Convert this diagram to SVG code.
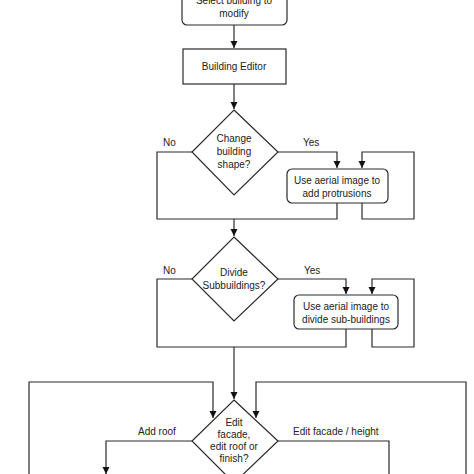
<svg xmlns="http://www.w3.org/2000/svg" width="474" height="474" viewBox="0 0 474 474">
<defs>
<marker id="arr" markerWidth="8" markerHeight="8" refX="7" refY="4" orient="auto" markerUnits="userSpaceOnUse">
<path d="M0,0.5 L7,4 L0,7.5 Z" fill="#111"/>
</marker>
<style>
.n{fill:#fff;stroke:#2a2a2a;stroke-width:1.2}
.c{fill:none;stroke:#2a2a2a;stroke-width:1.2}
.t{font-family:"Liberation Sans",Arial,sans-serif;font-size:10px;fill:#222;text-anchor:middle}
.l{font-family:"Liberation Sans",Arial,sans-serif;font-size:10px;fill:#222}
</style>
</defs>
<rect width="474" height="474" fill="#fff"/>
<g id="connectors">
<path class="c" d="M234,25 V48" marker-end="url(#arr)"/>
<path class="c" d="M234,84 V109" marker-end="url(#arr)"/>
<path class="c" d="M192,152 H157 V219 H337 V203"/>
<path class="c" d="M278,152 H337 V168" marker-end="url(#arr)"/>
<path class="c" d="M362,203 V219 H414 V152 H362 V168" marker-end="url(#arr)"/>
<path class="c" d="M234,219 V236" marker-end="url(#arr)"/>
<path class="c" d="M192,279 H157 V347 H346 V329"/>
<path class="c" d="M278,279 H346 V294" marker-end="url(#arr)"/>
<path class="c" d="M372,329 V347 H414 V279 H372 V294" marker-end="url(#arr)"/>
<path class="c" d="M234,347 V399" marker-end="url(#arr)"/>
<path class="c" d="M29,480 V382 H213 V418" marker-end="url(#arr)"/>
<path class="c" d="M466,480 V382 H256 V418" marker-end="url(#arr)"/>
<path class="c" d="M192,441 H106 V474" marker-end="url(#arr)"/>
<path class="c" d="M278,441 H389 V480"/>
</g>
<g id="labels">
<text class="l" x="163" y="146">No</text>
<text class="l" x="303" y="146">Yes</text>
<text class="l" x="163" y="274">No</text>
<text class="l" x="304" y="274">Yes</text>
<text class="l" x="138" y="435">Add roof</text>
<text class="l" x="293" y="435">Edit facade / height</text>
</g>
<g id="select">
<rect class="n" x="182" y="-12" width="105" height="37" rx="5"/>
<text class="t" x="234" y="4">Select building to</text>
<text class="t" x="234" y="17">modify</text>
</g>
<g id="editor">
<rect class="n" x="183" y="49" width="103" height="35"/>
<text class="t" x="234" y="70">Building Editor</text>
</g>
<g id="shape">
<polygon class="n" points="234,110 278,152 234,195 192,152"/>
<text class="t" x="234" y="142">Change</text>
<text class="t" x="234" y="155">building</text>
<text class="t" x="234" y="168">shape?</text>
</g>
<g id="protrusions">
<rect class="n" x="287" y="169" width="101" height="34" rx="5"/>
<text class="t" x="337" y="184">Use aerial image to</text>
<text class="t" x="337" y="197">add protrusions</text>
</g>
<g id="divide">
<polygon class="n" points="234,237 278,279 234,321 192,279"/>
<text class="t" x="234" y="276">Divide</text>
<text class="t" x="234" y="289">Subbuildings?</text>
</g>
<g id="subbuildings">
<rect class="n" x="294" y="295" width="104" height="34" rx="5"/>
<text class="t" x="346" y="310">Use aerial image to</text>
<text class="t" x="346" y="323">divide sub-buildings</text>
</g>
<g id="edit">
<polygon class="n" points="234,400 278,441 234,483 192,441"/>
<text class="t" x="234" y="426">Edit</text>
<text class="t" x="234" y="438">facade,</text>
<text class="t" x="234" y="450">edit roof or</text>
<text class="t" x="234" y="462">finish?</text>
</g>
</svg>
